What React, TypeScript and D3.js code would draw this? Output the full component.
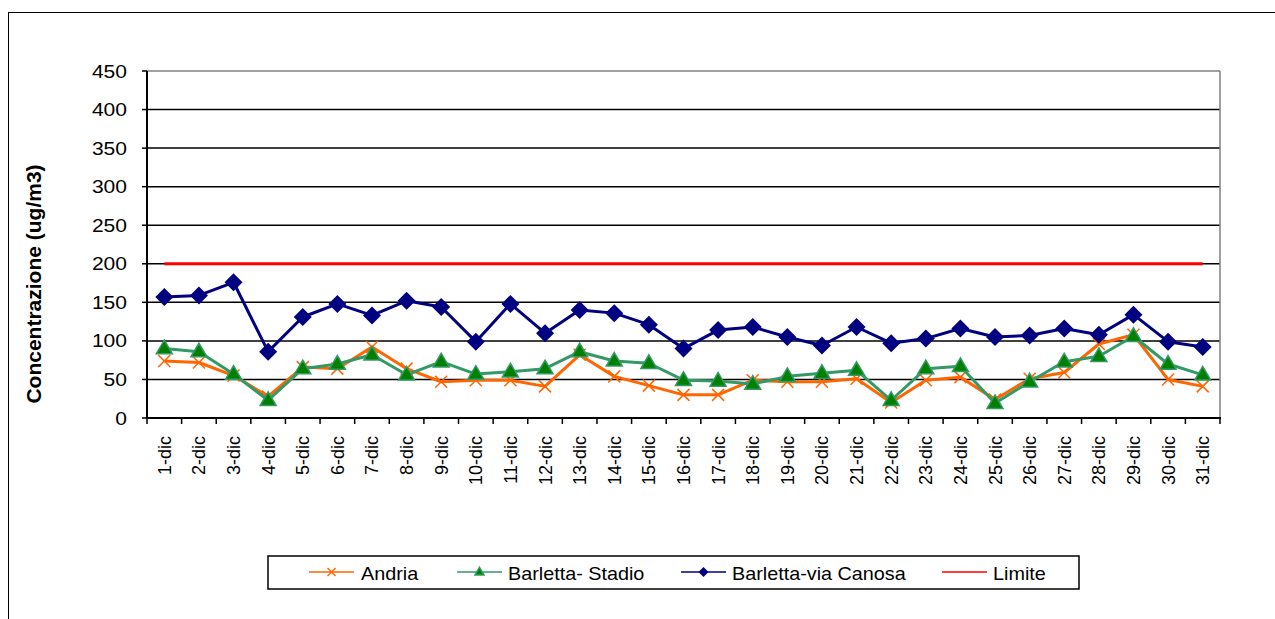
import React from 'react';
import * as d3 from 'd3';

const days = Array.from({ length: 31 }, (_, i) => `${i + 1}-dic`);

const andria = [74, 72, 55, 28, 66, 64, 92, 64, 47, 49, 49, 41, 82, 54, 42, 30, 30, 49, 47, 47, 51, 20, 49, 53, 24, 51, 59, 96, 108, 50, 41];
const barlettaStadio = [90, 86, 57, 23, 64, 70, 82, 56, 73, 57, 60, 64, 86, 74, 71, 49, 48, 44, 54, 58, 62, 23, 64, 67, 19, 47, 73, 80, 106, 70, 56];
const barlettaCanosa = [157, 159, 176, 86, 131, 148, 133, 152, 144, 99, 148, 110, 140, 136, 121, 90, 114, 118, 105, 94, 118, 97, 103, 116, 105, 107, 116, 108, 134, 99, 92];
const limite = days.map(() => 200);

const yTicks = [0, 50, 100, 150, 200, 250, 300, 350, 400, 450];

const W = 1275;
const H = 619;
const left = 147;
const right = 1220;
const top = 71;
const bottom = 418;

const FONT = '"Liberation Sans", Arial, sans-serif';

function Cross({ x, y, r, color, w }: { x: number; y: number; r: number; color: string; w: number }) {
  return (
    <g stroke={color} strokeWidth={w}>
      <line x1={x - r} y1={y - r} x2={x + r} y2={y + r} />
      <line x1={x - r} y1={y + r} x2={x + r} y2={y - r} />
    </g>
  );
}

function Triangle({ x, y, r, fill, stroke }: { x: number; y: number; r: number; fill: string; stroke: string }) {
  const h = r * 1.7;
  return (
    <path
      d={`M${x},${y - h * 0.62}L${x + r},${y + h * 0.38}L${x - r},${y + h * 0.38}Z`}
      fill={fill}
      stroke={stroke}
      strokeWidth={1.5}
    />
  );
}

function Diamond({ x, y, r, fill }: { x: number; y: number; r: number; fill: string }) {
  return <path d={`M${x},${y - r}L${x + r},${y}L${x},${y + r}L${x - r},${y}Z`} fill={fill} />;
}

export default function App() {
  const x = d3.scaleBand<string>().domain(days).range([left, right]);
  const y = d3.scaleLinear().domain([0, 450]).range([bottom, top]);
  const cx = (d: string) => (x(d) as number) + x.bandwidth() / 2;

  const line = d3
    .line<number>()
    .x((_, i) => cx(days[i]))
    .y((v) => y(v));

  const boundaries = days.map((d) => x(d) as number).concat([right]);

  const legendY = 572;
  const legendItems = [
    { label: 'Andria', x1: 309, tx: 361, kind: 'cross' },
    { label: 'Barletta- Stadio', x1: 457, tx: 508, kind: 'tri' },
    { label: 'Barletta-via Canosa', x1: 681, tx: 732, kind: 'dia' },
    { label: 'Limite', x1: 942, tx: 993, kind: 'none' },
  ];
  const legendColor: Record<string, string> = {
    cross: '#FF6600',
    tri: '#339966',
    dia: '#000080',
    none: '#FF0000',
  };

  return (
    <svg width={W} height={H} style={{ position: 'absolute', left: 0, top: 0, background: '#fff' }} fontFamily={FONT}>
      {/* chart border */}
      <line x1={8.5} y1={12} x2={8.5} y2={H} stroke="#000" strokeWidth={1} />
      <line x1={8} y1={12.5} x2={W} y2={12.5} stroke="#000" strokeWidth={1} />

      {/* gridlines */}
      {yTicks.filter((t) => t > 0 && t < 450).map((t) => (
        <line key={t} x1={left} x2={right} y1={y(t)} y2={y(t)} stroke="#000" strokeWidth={1.5} />
      ))}
      <line x1={left} x2={right} y1={y(450)} y2={y(450)} stroke="#808080" strokeWidth={1.5} />
      <line x1={right} x2={right} y1={top} y2={bottom} stroke="#808080" strokeWidth={1.5} />

      {/* axes */}
      <line x1={left} x2={left} y1={top} y2={bottom} stroke="#000" strokeWidth={2} />
      <line x1={left} x2={right + 1} y1={bottom} y2={bottom} stroke="#000" strokeWidth={2} />
      {yTicks.map((t) => (
        <g key={t}>
          <line x1={142} x2={left} y1={y(t)} y2={y(t)} stroke="#000" strokeWidth={1.5} />
          <text
            transform={`translate(127,${y(t) + 6.5}) scale(1.17,1)`}
            textAnchor="end"
            fontSize={18}
            fill="#000"
          >
            {t}
          </text>
        </g>
      ))}
      {boundaries.map((b, i) => (
        <line key={i} x1={b} x2={b} y1={bottom} y2={424} stroke="#000" strokeWidth={1.5} />
      ))}
      {days.map((d) => (
        <text
          key={d}
          transform={`translate(${cx(d) + 6.5},436) rotate(-90)`}
          textAnchor="end"
          fontSize={18}
          fill="#000"
        >
          {d}
        </text>
      ))}

      <text
        transform="translate(41,284) rotate(-90)"
        textAnchor="middle"
        fontSize={21}
        fontWeight="bold"
        fill="#000"
      >
        Concentrazione (ug/m3)
      </text>

      {/* series */}
      <path d={line(andria) || ''} fill="none" stroke="#FF6600" strokeWidth={3} strokeLinejoin="round" />
      {andria.map((v, i) => (
        <Cross key={i} x={cx(days[i])} y={y(v)} r={6} color="#FF6600" w={1.5} />
      ))}
      <path d={line(barlettaStadio) || ''} fill="none" stroke="#339966" strokeWidth={3} strokeLinejoin="round" />
      {barlettaStadio.map((v, i) => (
        <Triangle key={i} x={cx(days[i])} y={y(v)} r={8} fill="#008000" stroke="#339966" />
      ))}
      <path d={line(barlettaCanosa) || ''} fill="none" stroke="#000080" strokeWidth={3} strokeLinejoin="round" />
      {barlettaCanosa.map((v, i) => (
        <Diamond key={i} x={cx(days[i])} y={y(v)} r={9} fill="#000080" />
      ))}
      <path d={line(limite) || ''} fill="none" stroke="#FF0000" strokeWidth={3} />

      {/* legend */}
      <rect x={268} y={556} width={811} height={33} fill="#fff" stroke="#000" strokeWidth={1.5} />
      {legendItems.map((it) => (
        <g key={it.label}>
          <line x1={it.x1} x2={it.x1 + 45} y1={legendY} y2={legendY} stroke={legendColor[it.kind]} strokeWidth={1.5} />
          {it.kind === 'cross' && <Cross x={it.x1 + 22.5} y={legendY} r={4} color="#FF6600" w={1.5} />}
          {it.kind === 'tri' && <Triangle x={it.x1 + 22.5} y={legendY} r={4.5} fill="#008000" stroke="#339966" />}
          {it.kind === 'dia' && <Diamond x={it.x1 + 22.5} y={legendY} r={5} fill="#000080" />}
          <text transform={`translate(${it.tx},580) scale(1.1,1)`} fontSize={18} fill="#000">
            {it.label}
          </text>
        </g>
      ))}
    </svg>
  );
}
